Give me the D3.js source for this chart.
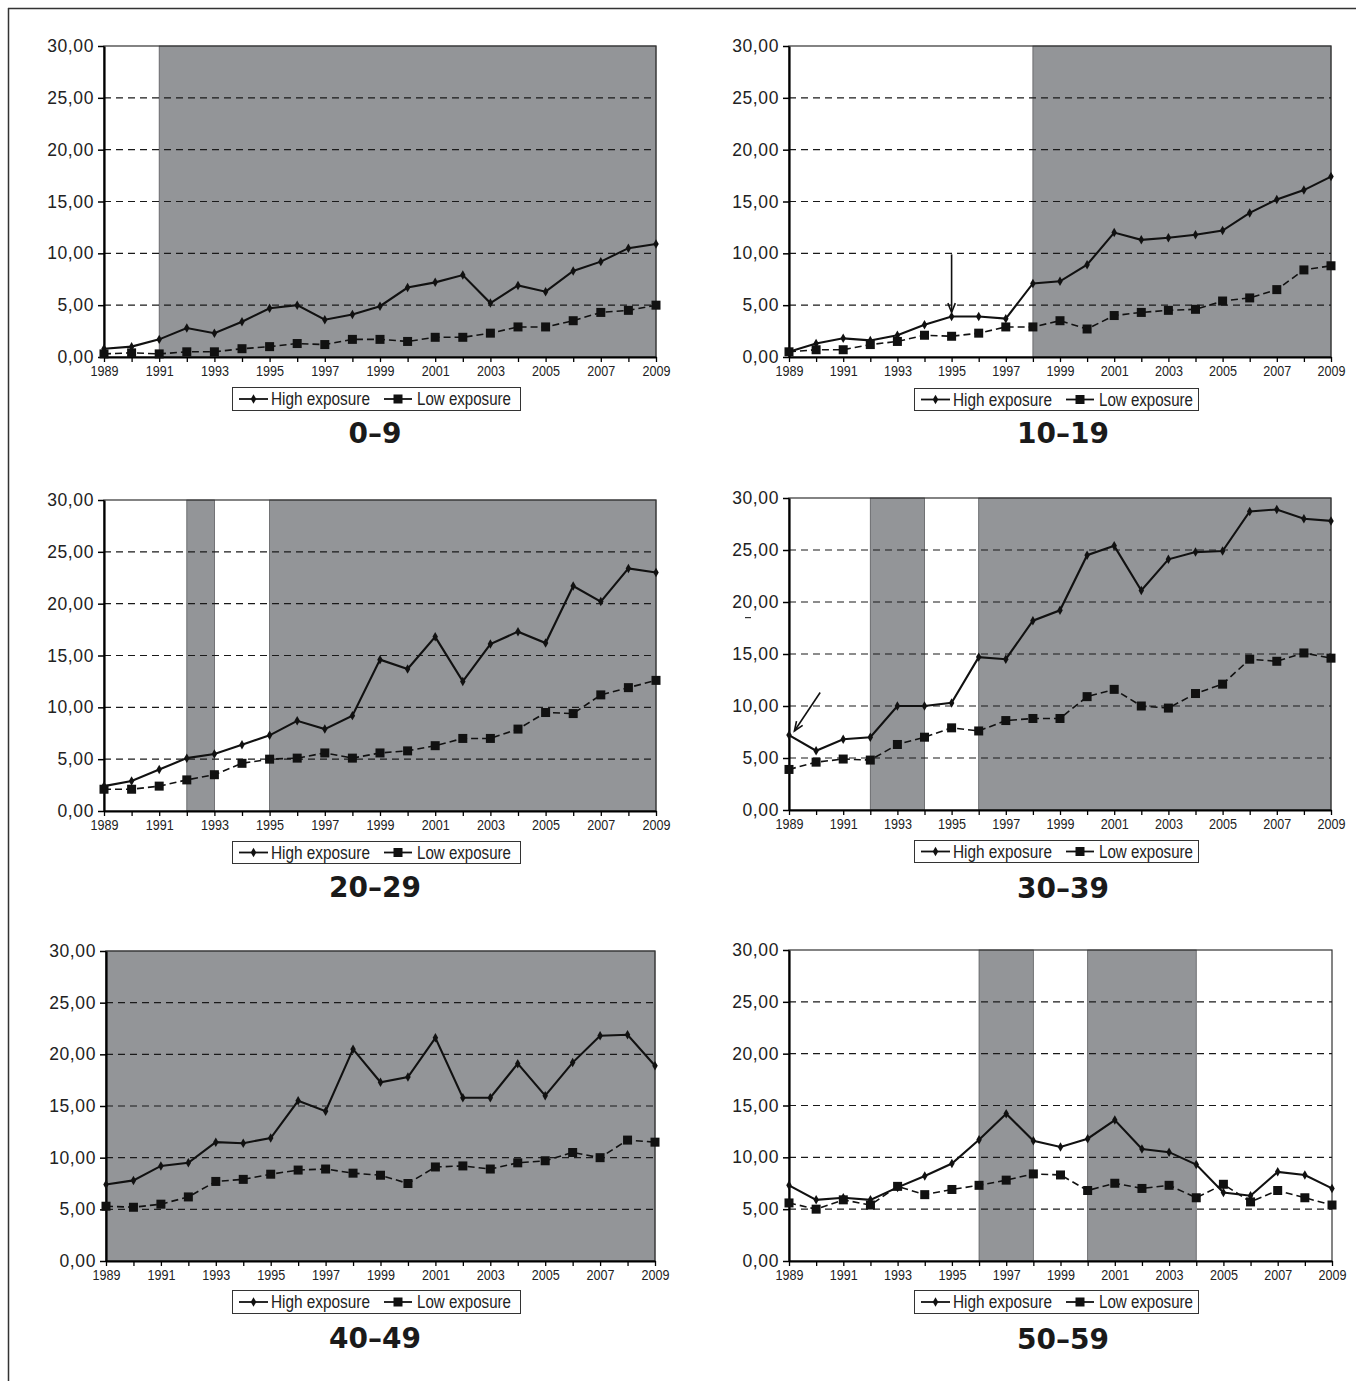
<!DOCTYPE html>
<html><head><meta charset="utf-8">
<script src="https://cdn.jsdelivr.net/npm/d3@7/dist/d3.min.js"></script>
<style>body{margin:0;background:#fff}</style>
</head><body><svg id="c" width="1356" height="1381"></svg>
<script>
// ---------- DATA ----------
const years = [1989,1990,1991,1992,1993,1994,1995,1996,1997,1998,1999,2000,2001,2002,2003,2004,2005,2006,2007,2008,2009];
const xTickLabels = [1989,1991,1993,1995,1997,1999,2001,2003,2005,2007,2009];
const yTicks = [0,5,10,15,20,25,30];
const seriesNames = ["High exposure","Low exposure"];
const titles = ["0–9","10–19","20–29","30–39","40–49","50–59"];

const high_0_9   = [0.8,1.0,1.7,2.8,2.3,3.4,4.7,5.0,3.6,4.1,4.9,6.7,7.2,7.9,5.2,6.9,6.3,8.3,9.2,10.5,10.9];
const low_0_9    = [0.3,0.4,0.3,0.5,0.5,0.8,1.0,1.3,1.2,1.7,1.7,1.5,1.9,1.9,2.3,2.9,2.9,3.5,4.3,4.5,5.0];
const high_10_19 = [0.5,1.3,1.8,1.6,2.1,3.1,3.9,3.9,3.7,7.1,7.3,8.9,12.0,11.3,11.5,11.8,12.2,13.9,15.2,16.1,17.4];
const low_10_19  = [0.5,0.7,0.7,1.2,1.5,2.1,2.0,2.3,2.9,2.9,3.5,2.7,4.0,4.3,4.5,4.6,5.4,5.7,6.5,8.4,8.8];
const high_20_29 = [2.4,2.9,4.0,5.1,5.5,6.4,7.3,8.7,7.9,9.2,14.6,13.7,16.8,12.5,16.1,17.3,16.2,21.7,20.2,23.4,23.0];
const low_20_29  = [2.1,2.1,2.4,3.0,3.5,4.6,5.0,5.1,5.6,5.1,5.6,5.8,6.3,7.0,7.0,7.9,9.5,9.4,11.2,11.9,12.6];
const high_30_39 = [7.2,5.7,6.8,7.0,10.0,10.0,10.3,14.7,14.5,18.2,19.2,24.5,25.4,21.1,24.1,24.8,24.9,28.7,28.9,28.0,27.8];
const low_30_39  = [3.9,4.6,4.9,4.8,6.3,7.0,7.9,7.6,8.6,8.8,8.8,10.9,11.6,10.0,9.8,11.2,12.1,14.5,14.3,15.1,14.6];
const high_40_49 = [7.4,7.8,9.2,9.5,11.5,11.4,11.9,15.5,14.5,20.5,17.3,17.8,21.6,15.8,15.8,19.1,16.0,19.2,21.8,21.9,18.9];
const low_40_49  = [5.3,5.2,5.5,6.2,7.7,7.9,8.4,8.8,8.9,8.5,8.3,7.5,9.1,9.2,8.9,9.5,9.7,10.5,10.0,11.7,11.5];
const high_50_59 = [7.3,5.9,6.1,5.9,7.1,8.2,9.4,11.7,14.2,11.6,11.0,11.8,13.6,10.8,10.5,9.3,6.6,6.3,8.6,8.3,7.0];
const low_50_59  = [5.6,5.0,5.9,5.4,7.2,6.4,6.9,7.3,7.8,8.4,8.3,6.8,7.5,7.0,7.3,6.1,7.4,5.7,6.8,6.1,5.4];

const highSeries = [high_0_9, high_10_19, high_20_29, high_30_39, high_40_49, high_50_59];
const lowSeries  = [low_0_9, low_10_19, low_20_29, low_30_39, low_40_49, low_50_59];
// shaded year spans per panel
const shading = [
  [[1991,2009]],
  [[1998,2009]],
  [[1992,1993],[1995,2009]],
  [[1992,1994],[1996,2009]],
  [[1989,2009]],
  [[1996,1998],[2000,2004]]
];
// arrows (data coordinates) per panel
const arrows = [
  [],
  [{x1:1995,y1:9.9,x2:1995,y2:4.3}],
  [],
  [{x1:1990.15,y1:11.3,x2:1989.2,y2:7.6}],
  [],
  []
];

// ---------- LAYOUT ----------
const layout = [
  {L:104,R:656,T:46,B:357,lg:[232,387,288,23],tx:375,ty:443},
  {L:789,R:1331,T:46,B:357,lg:[914,388,284,22],tx:1063,ty:443},
  {L:104,R:656,T:500,B:811,lg:[232,841,288,22],tx:375,ty:897},
  {L:789,R:1331,T:498,B:810,lg:[914,840,284,22],tx:1063,ty:898},
  {L:106,R:655,T:951,B:1261,lg:[232,1290,288,23],tx:375,ty:1348},
  {L:789,R:1332,T:950,B:1261,lg:[914,1290,284,23],tx:1063,ty:1349}
];

const GRAY = "#939598";
const NARROW = "'Liberation Sans Narrow', 'Arial Narrow', 'Liberation Sans', sans-serif";
const svg = d3.select("#c");

// outer frame
svg.append("line").attr("x1",8).attr("y1",8.5).attr("x2",1356).attr("y2",8.5).attr("stroke","#333").attr("stroke-width",1.5);
svg.append("line").attr("x1",8.5).attr("y1",8).attr("x2",8.5).attr("y2",1381).attr("stroke","#333").attr("stroke-width",1.5);

layout.forEach((p, i) => {
  const g = svg.append("g");
  const x = d3.scaleLinear().domain([years[0], years[years.length-1]]).range([p.L, p.R]);
  const y = d3.scaleLinear().domain([0, 30]).range([p.B, p.T]);

  // shaded bands
  g.selectAll("rect.band").data(shading[i]).join("rect")
    .attr("x", d => x(d[0])).attr("y", y(30))
    .attr("width", d => x(d[1]) - x(d[0])).attr("height", y(0) - y(30))
    .attr("fill", GRAY).attr("stroke", "#5a5b5e").attr("stroke-width", 0.8);

  // plot border
  g.append("rect").attr("x", x(years[0])).attr("y", y(30))
    .attr("width", x(years[years.length-1]) - x(years[0])).attr("height", y(0) - y(30))
    .attr("fill", "none").attr("stroke", "#333").attr("stroke-width", 1.2);

  // gridlines
  g.selectAll("line.grid").data(yTicks.filter(v => v > 0 && v < 30)).join("line")
    .attr("x1", x(years[0])).attr("x2", x(years[years.length-1]))
    .attr("y1", d => y(d)).attr("y2", d => y(d))
    .attr("stroke", "#1a1a1a").attr("stroke-width", 1.1).attr("stroke-dasharray", "7,5");

  // y axis
  const ya = g.append("g").attr("transform", `translate(${x(years[0])},0)`)
    .call(d3.axisLeft(y).tickValues(yTicks).tickSize(6).tickSizeOuter(0).tickPadding(4)
      .tickFormat(d => d3.format(".2f")(d).replace(".", ",")));
  ya.select(".domain").attr("stroke", "#000").attr("stroke-width", 2.2);
  ya.selectAll(".tick line").attr("stroke", "#000").attr("stroke-width", 1.5);
  ya.selectAll("text").attr("font-family", "'Liberation Sans', Arial, sans-serif")
    .attr("font-size", 17.5).attr("letter-spacing", 0.6).attr("fill", "#222");

  // x axis
  const xa = g.append("g").attr("transform", `translate(0,${y(0)})`)
    .call(d3.axisBottom(x).tickValues(years).tickSize(5).tickSizeOuter(0).tickPadding(3)
      .tickFormat(d => xTickLabels.includes(d) ? String(d) : ""));
  xa.select(".domain").attr("stroke", "#000").attr("stroke-width", 2.2);
  xa.selectAll(".tick line").attr("stroke", "#000").attr("stroke-width", 1.3);
  xa.selectAll("text").attr("font-family", NARROW)
    .attr("font-size", 15).attr("fill", "#222");
  xa.selectAll(".tick text").filter(d => xTickLabels.includes(d))
    .attr("textLength", 28).attr("lengthAdjust", "spacingAndGlyphs");

  // lines
  const line = d3.line().x((d, k) => x(years[k])).y(d => y(d));
  g.append("path").datum(lowSeries[i]).attr("d", line).attr("fill", "none")
    .attr("stroke", "#111").attr("stroke-width", 1.6).attr("stroke-dasharray", "7,4");
  g.append("path").datum(highSeries[i]).attr("d", line).attr("fill", "none")
    .attr("stroke", "#111").attr("stroke-width", 2.1);

  // markers
  g.selectAll("rect.lowm").data(lowSeries[i]).join("rect")
    .attr("x", (d, k) => x(years[k]) - 4.5).attr("y", d => y(d) - 4.5)
    .attr("width", 9).attr("height", 9).attr("fill", "#111");
  const diamond = d3.symbol().type(d3.symbolDiamond).size(26);
  g.selectAll("path.highm").data(highSeries[i]).join("path")
    .attr("d", diamond).attr("transform", (d, k) => `translate(${x(years[k])},${y(d)})`)
    .attr("fill", "#111");

  // arrows
  arrows[i].forEach(a => {
    const x1 = x(a.x1), y1 = y(a.y1), x2 = x(a.x2), y2 = y(a.y2);
    const ang = Math.atan2(y2 - y1, x2 - x1);
    const hl = 10, hw = 0.38;
    g.append("line").attr("x1", x1).attr("y1", y1).attr("x2", x2).attr("y2", y2)
      .attr("stroke", "#111").attr("stroke-width", 1.6);
    g.append("path")
      .attr("d", `M${x2 - hl*Math.cos(ang - hw)},${y2 - hl*Math.sin(ang - hw)} L${x2},${y2} L${x2 - hl*Math.cos(ang + hw)},${y2 - hl*Math.sin(ang + hw)}`)
      .attr("fill", "none").attr("stroke", "#111").attr("stroke-width", 1.6);
  });
  if (i === 3) {
    // stray small mark under the 20,00 label in the original
    g.append("line").attr("x1", p.L - 44).attr("x2", p.L - 38).attr("y1", y(18.5)).attr("y2", y(18.5))
      .attr("stroke", "#333").attr("stroke-width", 1.2);
  }

  // legend
  const [lx, ly, lw, lh] = p.lg;
  const lg = g.append("g");
  lg.append("rect").attr("x", lx + 0.5).attr("y", ly + 0.5).attr("width", lw).attr("height", lh)
    .attr("fill", "#fff").attr("stroke", "#333").attr("stroke-width", 1);
  const cy = ly + lh / 2 + 0.5;
  lg.append("line").attr("x1", lx + 7).attr("x2", lx + 36).attr("y1", cy).attr("y2", cy)
    .attr("stroke", "#111").attr("stroke-width", 1.8);
  lg.append("path").attr("d", diamond).attr("transform", `translate(${lx + 21.5},${cy})`).attr("fill", "#111");
  lg.append("text").attr("x", lx + 39).attr("y", cy + 6).text(seriesNames[0])
    .attr("font-family", NARROW).attr("font-size", 17.5).attr("fill", "#222")
    .attr("textLength", 99).attr("lengthAdjust", "spacingAndGlyphs");
  lg.append("line").attr("x1", lx + 152).attr("x2", lx + 180).attr("y1", cy).attr("y2", cy)
    .attr("stroke", "#111").attr("stroke-width", 1.8);
  lg.append("rect").attr("x", lx + 161.5).attr("y", cy - 4.5).attr("width", 9).attr("height", 9).attr("fill", "#111");
  lg.append("text").attr("x", lx + 185).attr("y", cy + 6).text(seriesNames[1])
    .attr("font-family", NARROW).attr("font-size", 17.5).attr("fill", "#222")
    .attr("textLength", 94).attr("lengthAdjust", "spacingAndGlyphs");

  // title
  g.append("text").attr("x", p.tx).attr("y", p.ty).attr("text-anchor", "middle").text(titles[i])
    .attr("font-family", "'DejaVu Sans', sans-serif").attr("font-weight", "bold").attr("font-size", 28).attr("fill", "#1a1a1a");
});
</script></body></html>
